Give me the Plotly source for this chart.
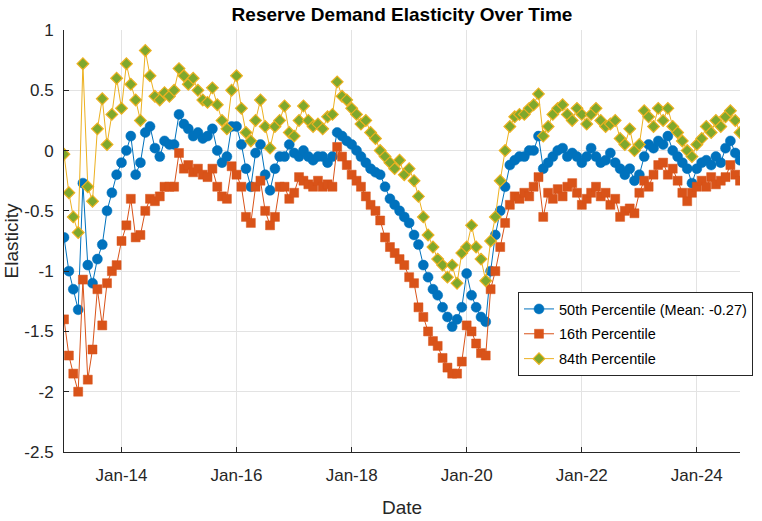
import pandas as pd
import plotly.graph_objects as go

# Monthly observations, Jan 2013 .. Oct 2024
start_month = "2013-01-01"
n_months = 142
dates = pd.date_range(start_month, periods=n_months, freq="MS")

p50 = [
    -0.72, -1.0, -1.15, -1.32, -0.27, -0.95, -1.1, -0.9, -0.78, -0.5,
    -0.35, -0.2, -0.1, 0.0, 0.12, -0.2, -0.1, 0.15, 0.2, 0.02,
    -0.05, 0.08, 0.05, 0.05, 0.3, 0.22, 0.18, 0.12, 0.15, 0.1,
    0.12, 0.18, 0.0, -0.1, -0.05, 0.2, 0.2, 0.05, -0.15, -0.3,
    -0.02, 0.05, -0.2, -0.33, -0.15, -0.05, -0.05, 0.05, -0.02, -0.05,
    0.0, -0.05, -0.08, -0.05, -0.05, -0.1, -0.05, 0.15, 0.12, 0.08,
    0.05, 0.0, -0.05, -0.1, -0.15, -0.18, -0.2, -0.3, -0.4, -0.45,
    -0.5, -0.55, -0.6, -0.7, -0.78, -0.95, -1.05, -1.15, -1.2, -1.3,
    -1.38, -1.46, -1.4, -1.3, -1.02, -1.2, -1.3, -1.38, -1.42, -1.0,
    -0.7, -0.5, -0.3, -0.12, -0.08, -0.05, -0.05, 0.0, 0.0, 0.12,
    -0.15, -0.1, -0.05, 0.0, 0.02, -0.05, -0.02, -0.05, -0.1, -0.05,
    0.02, -0.05, -0.1, -0.08, -0.02, -0.1, -0.15, -0.2, -0.15, -0.25,
    -0.2, -0.05, 0.05, 0.02, 0.08, 0.05, 0.12, 0.0, -0.05, -0.1,
    -0.15, -0.27, -0.15, -0.1, -0.08, -0.12, -0.05, -0.1, 0.02, 0.08,
    -0.02, -0.08,
]

p16 = [
    -1.4, -1.7, -1.85, -2.0, -1.07, -1.9, -1.65, -1.15, -1.45, -1.1,
    -1.0, -0.95, -0.75, -0.62, -0.4, -0.72, -0.7, -0.5, -0.4, -0.42,
    -0.38, -0.3, -0.3, -0.3, -0.02, -0.15, -0.12, -0.18, -0.15, -0.2,
    -0.22, -0.15, -0.3, -0.38, -0.4, -0.13, -0.2, -0.3, -0.55, -0.6,
    -0.3, -0.25, -0.5, -0.62, -0.55, -0.3, -0.3, -0.4, -0.35, -0.22,
    -0.25, -0.28, -0.3, -0.25, -0.3, -0.28, -0.3, 0.03, -0.05, -0.12,
    -0.2, -0.25, -0.3, -0.38, -0.45, -0.5, -0.58, -0.72, -0.8, -0.85,
    -0.9, -0.95, -1.05, -1.1, -1.3, -1.38, -1.5, -1.58, -1.62, -1.72,
    -1.8, -1.85, -1.85, -1.75, -1.45, -1.5, -1.6, -1.68, -1.7, -1.15,
    -1.0, -0.8, -0.6, -0.45, -0.38, -0.4, -0.35, -0.38, -0.3, -0.22,
    -0.55, -0.35, -0.4, -0.32, -0.38, -0.3, -0.27, -0.35, -0.45, -0.4,
    -0.35, -0.3, -0.38, -0.35, -0.45, -0.4, -0.55, -0.5, -0.48, -0.52,
    -0.35, -0.25, -0.3, -0.2, -0.12, -0.1, -0.2, -0.15, -0.25, -0.35,
    -0.42, -0.35, -0.3, -0.25, -0.3, -0.22, -0.28, -0.25, -0.22, -0.12,
    -0.2, -0.25,
]

p84 = [
    -0.03, -0.35, -0.55, -0.68, 0.72, -0.3, -0.42, 0.18, 0.43, 0.05,
    0.3, 0.6, 0.35, 0.72, 0.55, 0.42, 0.25, 0.83, 0.62, 0.45,
    0.42, 0.48, 0.45, 0.5, 0.68, 0.62, 0.55, 0.6, 0.5, 0.42,
    0.4, 0.52, 0.38, 0.25, 0.18, 0.5, 0.62, 0.35, 0.15, 0.08,
    0.25, 0.42, 0.2, 0.02, 0.2, 0.25, 0.37, 0.15, 0.12, 0.25,
    0.37, 0.25, 0.2, 0.22, 0.18, 0.28, 0.3, 0.57, 0.45, 0.42,
    0.35, 0.3, 0.22, 0.25, 0.15, 0.1, 0.0, -0.05, -0.1, -0.15,
    -0.08, -0.2, -0.15, -0.25, -0.38, -0.55, -0.7, -0.8, -0.9, -0.95,
    -1.05, -0.95, -1.1, -0.85, -0.8, -0.62, -0.8, -0.9, -1.08, -0.75,
    -0.55, -0.25, 0.0, 0.2, 0.28, 0.3, 0.3, 0.35, 0.38, 0.47,
    0.12, 0.2, 0.3, 0.35, 0.38, 0.3, 0.25, 0.35, 0.3, 0.22,
    0.3, 0.35, 0.25, 0.2, 0.22, 0.25, 0.1, 0.05, 0.18, 0.0,
    0.05, 0.33, 0.28, 0.2, 0.35, 0.25, 0.35, 0.2, 0.15, 0.08,
    0.0, -0.05, 0.05, 0.1, 0.2, 0.15, 0.25, 0.2, 0.28, 0.33,
    0.25, 0.15,
]

x_tick_vals = ["2014-01-01", "2016-01-01", "2018-01-01", "2020-01-01", "2022-01-01", "2024-01-01"]
x_tick_text = ["Jan-14", "Jan-16", "Jan-18", "Jan-20", "Jan-22", "Jan-24"]
y_tick_vals = [1, 0.5, 0, -0.5, -1, -1.5, -2, -2.5]
y_tick_text = ["1", "0.5", "0", "-0.5", "-1", "-1.5", "-2", "-2.5"]

series_names = ["50th Percentile (Mean: -0.27)", "16th Percentile", "84th Percentile"]

assert len(p50) == n_months and len(p16) == n_months and len(p84) == n_months

FONT = "Liberation Sans, Arial, Helvetica, sans-serif"
BLUE = "#0072BD"
ORANGE = "#D95319"
YELLOW = "#EDB120"
GREEN = "#7FA82C"

fig = go.Figure()
fig.add_trace(go.Scatter(
    x=dates, y=p50, name=series_names[0], mode="lines+markers", legendgroup="a",
    line=dict(color=BLUE, width=1),
    marker=dict(symbol="circle", size=10, color=BLUE, line=dict(color=BLUE, width=0.5)),
))
fig.add_trace(go.Scatter(
    x=dates, y=p16, name=series_names[1], mode="lines+markers", legendgroup="b",
    line=dict(color=ORANGE, width=1),
    marker=dict(symbol="square", size=9, color=ORANGE, line=dict(color=ORANGE, width=0.5)),
))
fig.add_trace(go.Scatter(
    x=dates, y=p84, name=series_names[2], mode="lines+markers", legendgroup="c",
    line=dict(color=YELLOW, width=1),
    marker=dict(symbol="diamond", size=9, color=GREEN, line=dict(color=YELLOW, width=1.2)),
))

fig.update_layout(
    width=762, height=521,
    margin=dict(l=64, r=22, t=30, b=69, autoexpand=False),
    paper_bgcolor="white", plot_bgcolor="white",
    font=dict(family=FONT, size=17, color="#262626"),
    title=dict(text="<b>Reserve Demand Elasticity Over Time</b>", x=0.5, xref="paper",
               xanchor="center", y=1 - 14 / 521, yanchor="middle",
               font=dict(family=FONT, size=19, color="#000000")),
    showlegend=True,
    legend=dict(x=(518 - 64) / 676, xanchor="left", y=(452 - 292) / 422, yanchor="top",
                bgcolor="white", bordercolor="#262626", borderwidth=1,
                font=dict(family=FONT, size=14.5, color="#000000"),
                tracegroupgap=3, traceorder="grouped"),
)

fig.update_xaxes(
    range=[dates[0], dates[-1]],
    tickvals=x_tick_vals, ticktext=x_tick_text,
    showgrid=True, gridcolor="#E3E3E3", gridwidth=1,
    showline=True, linecolor="#262626", linewidth=1, mirror=False,
    ticks="inside", ticklen=5, tickcolor="#262626",
    ticklabelstandoff=8,
    zeroline=False,
    title=dict(text="Date", font=dict(family=FONT, size=19, color="#262626"), standoff=16),
)
fig.update_yaxes(
    range=[-2.5, 1],
    tickvals=y_tick_vals, ticktext=y_tick_text,
    showgrid=True, gridcolor="#E3E3E3", gridwidth=1,
    showline=True, linecolor="#262626", linewidth=1, mirror=False,
    ticks="inside", ticklen=5, tickcolor="#262626",
    ticklabelstandoff=6,
    zeroline=False,
    title=dict(text="Elasticity", font=dict(family=FONT, size=19, color="#262626"), standoff=0),
)

fig.write_html("out.html", config={"displayModeBar": False},
               post_script="document.body.style.margin='0';")
